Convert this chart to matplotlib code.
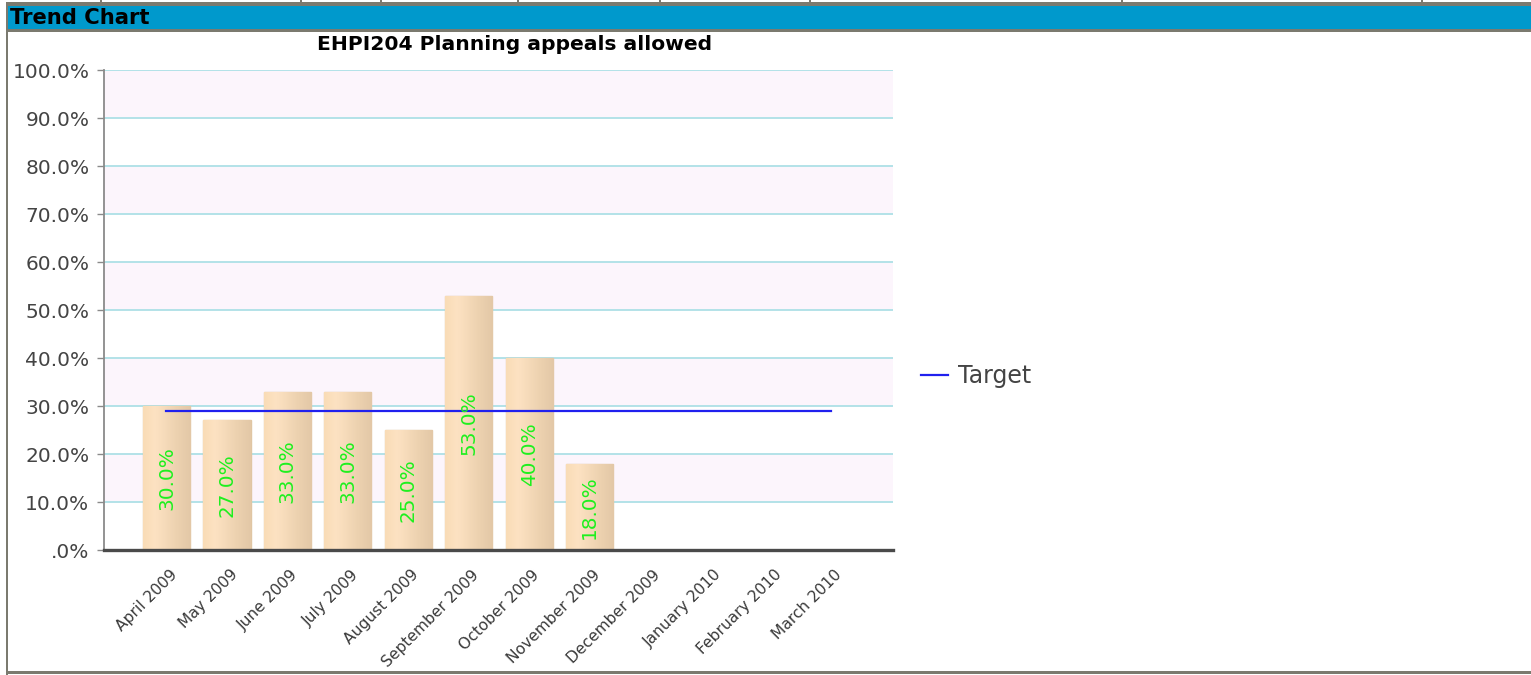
import numpy as np
import matplotlib
matplotlib.use("Agg")
import matplotlib.pyplot as plt
from matplotlib.patches import Rectangle
from matplotlib.colors import LinearSegmentedColormap
import matplotlib.transforms as mtransforms

# ---------------- data ----------------
months = ["April 2009", "May 2009", "June 2009", "July 2009", "August 2009",
          "September 2009", "October 2009", "November 2009", "December 2009",
          "January 2010", "February 2010", "March 2010"]
actual = [30.0, 27.0, 33.0, 33.0, 25.0, 53.0, 40.0, 18.0]
target = [29.0] * 12
y_ticks = [0, 10, 20, 30, 40, 50, 60, 70, 80, 90, 100]
y_tick_labels = [".0%", "10.0%", "20.0%", "30.0%", "40.0%", "50.0%",
                 "60.0%", "70.0%", "80.0%", "90.0%", "100.0%"]
title = "EHPI204 Planning appeals allowed"
header = "Trend Chart"

# ---------------- figure ----------------
W, H = 1531, 675
fig = plt.figure(figsize=(W / 100, H / 100), dpi=100)
fig.patch.set_facecolor("white")

frame_col = "#7b7a6f"


def px_rect(x, y, w, h, color, z=0):
    r = Rectangle((x / W, 1 - (y + h) / H), w / W, h / H, transform=fig.transFigure,
                  facecolor=color, edgecolor="none", zorder=z)
    fig.add_artist(r)


# header strip and frame
px_rect(6, 2, W - 6, 4, frame_col)
px_rect(8, 6, W - 8, 23, "#0099cc")
px_rect(6, 29, W - 6, 3, frame_col)
px_rect(6, 2, 2, H - 2, frame_col)
px_rect(6, 671, W - 6, 3, frame_col)
for xd in [100, 300, 380, 517, 659, 809, 1121, 1421]:
    px_rect(xd, 0, 2, 3, frame_col)
fig.text(10 / W, 1 - 18.5 / H, header, fontsize=15.2, fontweight="bold", color="black",
         ha="left", va="center")

# axes
ax = fig.add_axes([104 / W, 125 / H, 789 / W, 480 / H])
ax.set_facecolor("white")
x = np.arange(len(months))

# alternating bands
for lo in range(10, 100, 20):
    ax.axhspan(lo, lo + 10, color="#fcf5fc", zorder=0, lw=0)
for t in y_ticks[1:]:
    ax.axhline(t, color="#b3e2e8", lw=1.4, zorder=1)

# bars with gradient
cmap = LinearSegmentedColormap.from_list(
    "peach", [(0, "#f9dcb6"), (0.25, "#fde2c2"), (0.7, "#edd2b0"), (1, "#e3c8a7")])
grad = np.linspace(0, 1, 64).reshape(1, -1)
bars = ax.bar(x[:len(actual)], actual, width=0.78, color="#f6d9b4",
              edgecolor="#e0c6a3", linewidth=1.0, zorder=2)
for b in bars:
    x0 = b.get_x()
    im = ax.imshow(grad, extent=[x0, x0 + b.get_width(), 0, b.get_height()],
                   aspect="auto", cmap=cmap, zorder=2.1, interpolation="bilinear")
    im.set_clip_path(b)
for i, v in enumerate(actual):
    ax.text(x[i], v / 2, f"{v:.1f}%", rotation=90, ha="center", va="center",
            color="#1ef01e", fontsize=14.4, zorder=4)

# target line
ax.plot(x, target, color="#2020ee", lw=1.6, zorder=3, label="Target")

ax.set_xlim(-1.034, 12.02)
ax.set_ylim(0, 100)

# axes styling
for s in ["top", "right"]:
    ax.spines[s].set_visible(False)
ax.spines["left"].set_color("#8a8a8a")
ax.spines["left"].set_linewidth(1.3)
ax.spines["bottom"].set_color("#4a4a4a")
ax.spines["bottom"].set_linewidth(2.4)

ax.set_yticks(y_ticks)
ax.set_yticklabels(y_tick_labels, fontsize=14.5, color="#444444")
ax.tick_params(axis="y", length=5, width=1, color="#8a8a8a", pad=5.5)

ax.set_xticks(x)
ax.set_xticklabels(months, rotation=45, ha="right", va="top", rotation_mode="anchor",
                   fontsize=11.2, color="#3a3a3a")
ax.tick_params(axis="x", length=0, pad=0)
offset = mtransforms.ScaledTranslation(3 / 100, -17 / 100, fig.dpi_scale_trans)
for lab in ax.get_xticklabels():
    lab.set_transform(lab.get_transform() + offset)

fig.text(515 / W, 1 - 45 / H, title, fontsize=14.6, fontweight="bold", color="black",
         ha="center", va="center")

leg = ax.legend(loc="center left", bbox_to_anchor=(921 / W, 1 - 376 / H),
                bbox_transform=fig.transFigure, frameon=False, fontsize=17,
                handlelength=1.15, handletextpad=0.42, borderpad=0, borderaxespad=0)
for t in leg.get_texts():
    t.set_color("#444444")

fig.savefig("out.png", dpi=100, facecolor="white")
